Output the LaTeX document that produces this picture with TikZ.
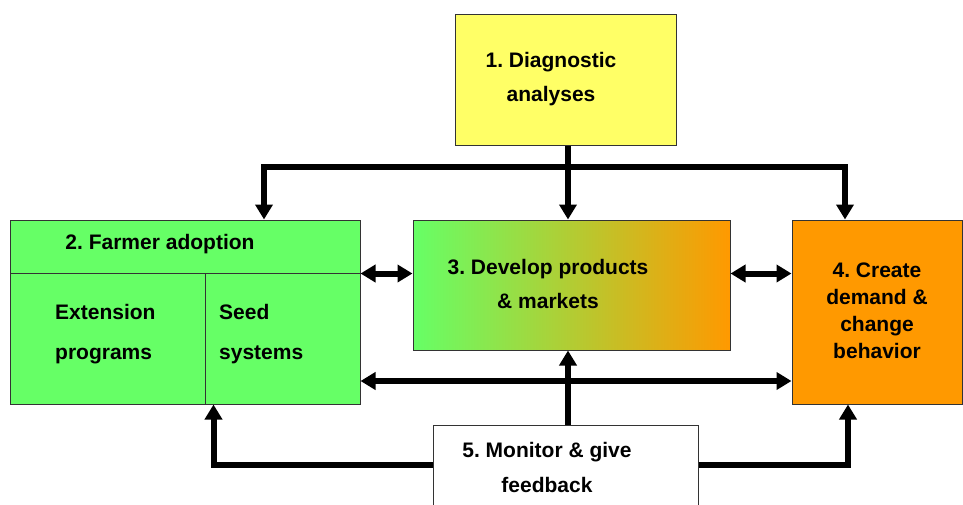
\documentclass[tikz,border=0pt]{standalone}
\usepackage{fontspec}
\setmainfont{Liberation Sans}
\frenchspacing
\usepackage{tikz}
\usetikzlibrary{arrows.meta}
\tikzset{>={Triangle[length=15pt,width=17pt]}}
\definecolor{diagyellow}{HTML}{FFFF66}
\definecolor{adoptgreen}{HTML}{66FF66}
\definecolor{gradmid}{HTML}{C8D652}
\definecolor{demandorange}{HTML}{FF9900}
\definecolor{edgegrey}{HTML}{333333}

\begin{document}
\begin{tikzpicture}[x=1pt, y=-1pt,
            box/.style={draw=edgegrey, line width=1pt, rectangle, inner sep=0pt},
            label/.style={inner sep=0pt, font=\bfseries\fontsize{21}{34}\selectfont, align=center},
            flow/.style={line width=6pt, ->},
            both/.style={line width=6pt, <->}]
            \clip (0,0) rectangle (963,504);
            \node[box, fill=diagyellow, minimum width=221pt, minimum height=131pt] (diag) at (565.5,79.5) {};
            \node[box, fill=adoptgreen, minimum width=350pt, minimum height=53pt] (adopt) at (185,246.5) {};
            \node[box, fill=adoptgreen, minimum width=195pt, minimum height=131pt] (ext) at (107.5,338.5) {};
            \node[box, fill=adoptgreen, minimum width=155pt, minimum height=131pt] (seed) at (282.5,338.5) {};
            \node[box, left color=adoptgreen, middle color=gradmid, right color=demandorange, minimum width=317pt, minimum height=130pt] (prod) at (571.5,285) {};
            \node[box, fill=demandorange, minimum width=170pt, minimum height=184pt] (demand) at (877,312) {};
            \node[box, fill=white, minimum width=265pt, minimum height=90pt] (monitor) at (565.5,470) {};
            \node[label] (diagtext) at (551,79) {1. Diagnostic\\analyses};
            \node[label] (adopttext) at (160,244) {2. Farmer adoption};
            \node[label, anchor=west, font=\bfseries\fontsize{21}{40}\selectfont, align=left] (exttext) at (55,334) {Extension\\programs};
            \node[label, anchor=west, font=\bfseries\fontsize{21}{40}\selectfont, align=left] (seedtext) at (219,334) {Seed\\systems};
            \node[label] (prodtext) at (548,284) {3. Develop products\\\& markets};
            \node[label, font=\bfseries\fontsize{21}{27}\selectfont] (demandtext) at (877,311) {4. Create\\demand \&\\change\\behavior};
            \node[label, font=\bfseries\fontsize{21}{35}\selectfont] (monitortext) at (547,467) {5. Monitor \& give\\feedback};
            \coordinate (split) at (568,167);
            \coordinate (low) at (0,381);
            \coordinate (fb) at (0,465);
            \draw[flow] (split |- diag.south) -- (split |- prod.north);
            \draw[flow] (split) -| ([xshift=79pt]adopt.north);
            \draw[flow] (split) -| ([xshift=-32pt]demand.north);
            \draw[both] (adopt.south east) -- (prod.west |- adopt.south);
            \draw[both] (prod.east |- adopt.south) -- (demand.west |- adopt.south);
            \draw[both] (seed.east |- low) -- (demand.west |- low);
            \draw[flow] (split |- monitor.north) -- (split |- prod.south);
            \draw[flow] (monitor.west |- fb) -| ([xshift=8pt]ext.south east);
            \draw[flow] (monitor.east |- fb) -| ([xshift=-29pt]demand.south);
\end{tikzpicture}
\end{document}
